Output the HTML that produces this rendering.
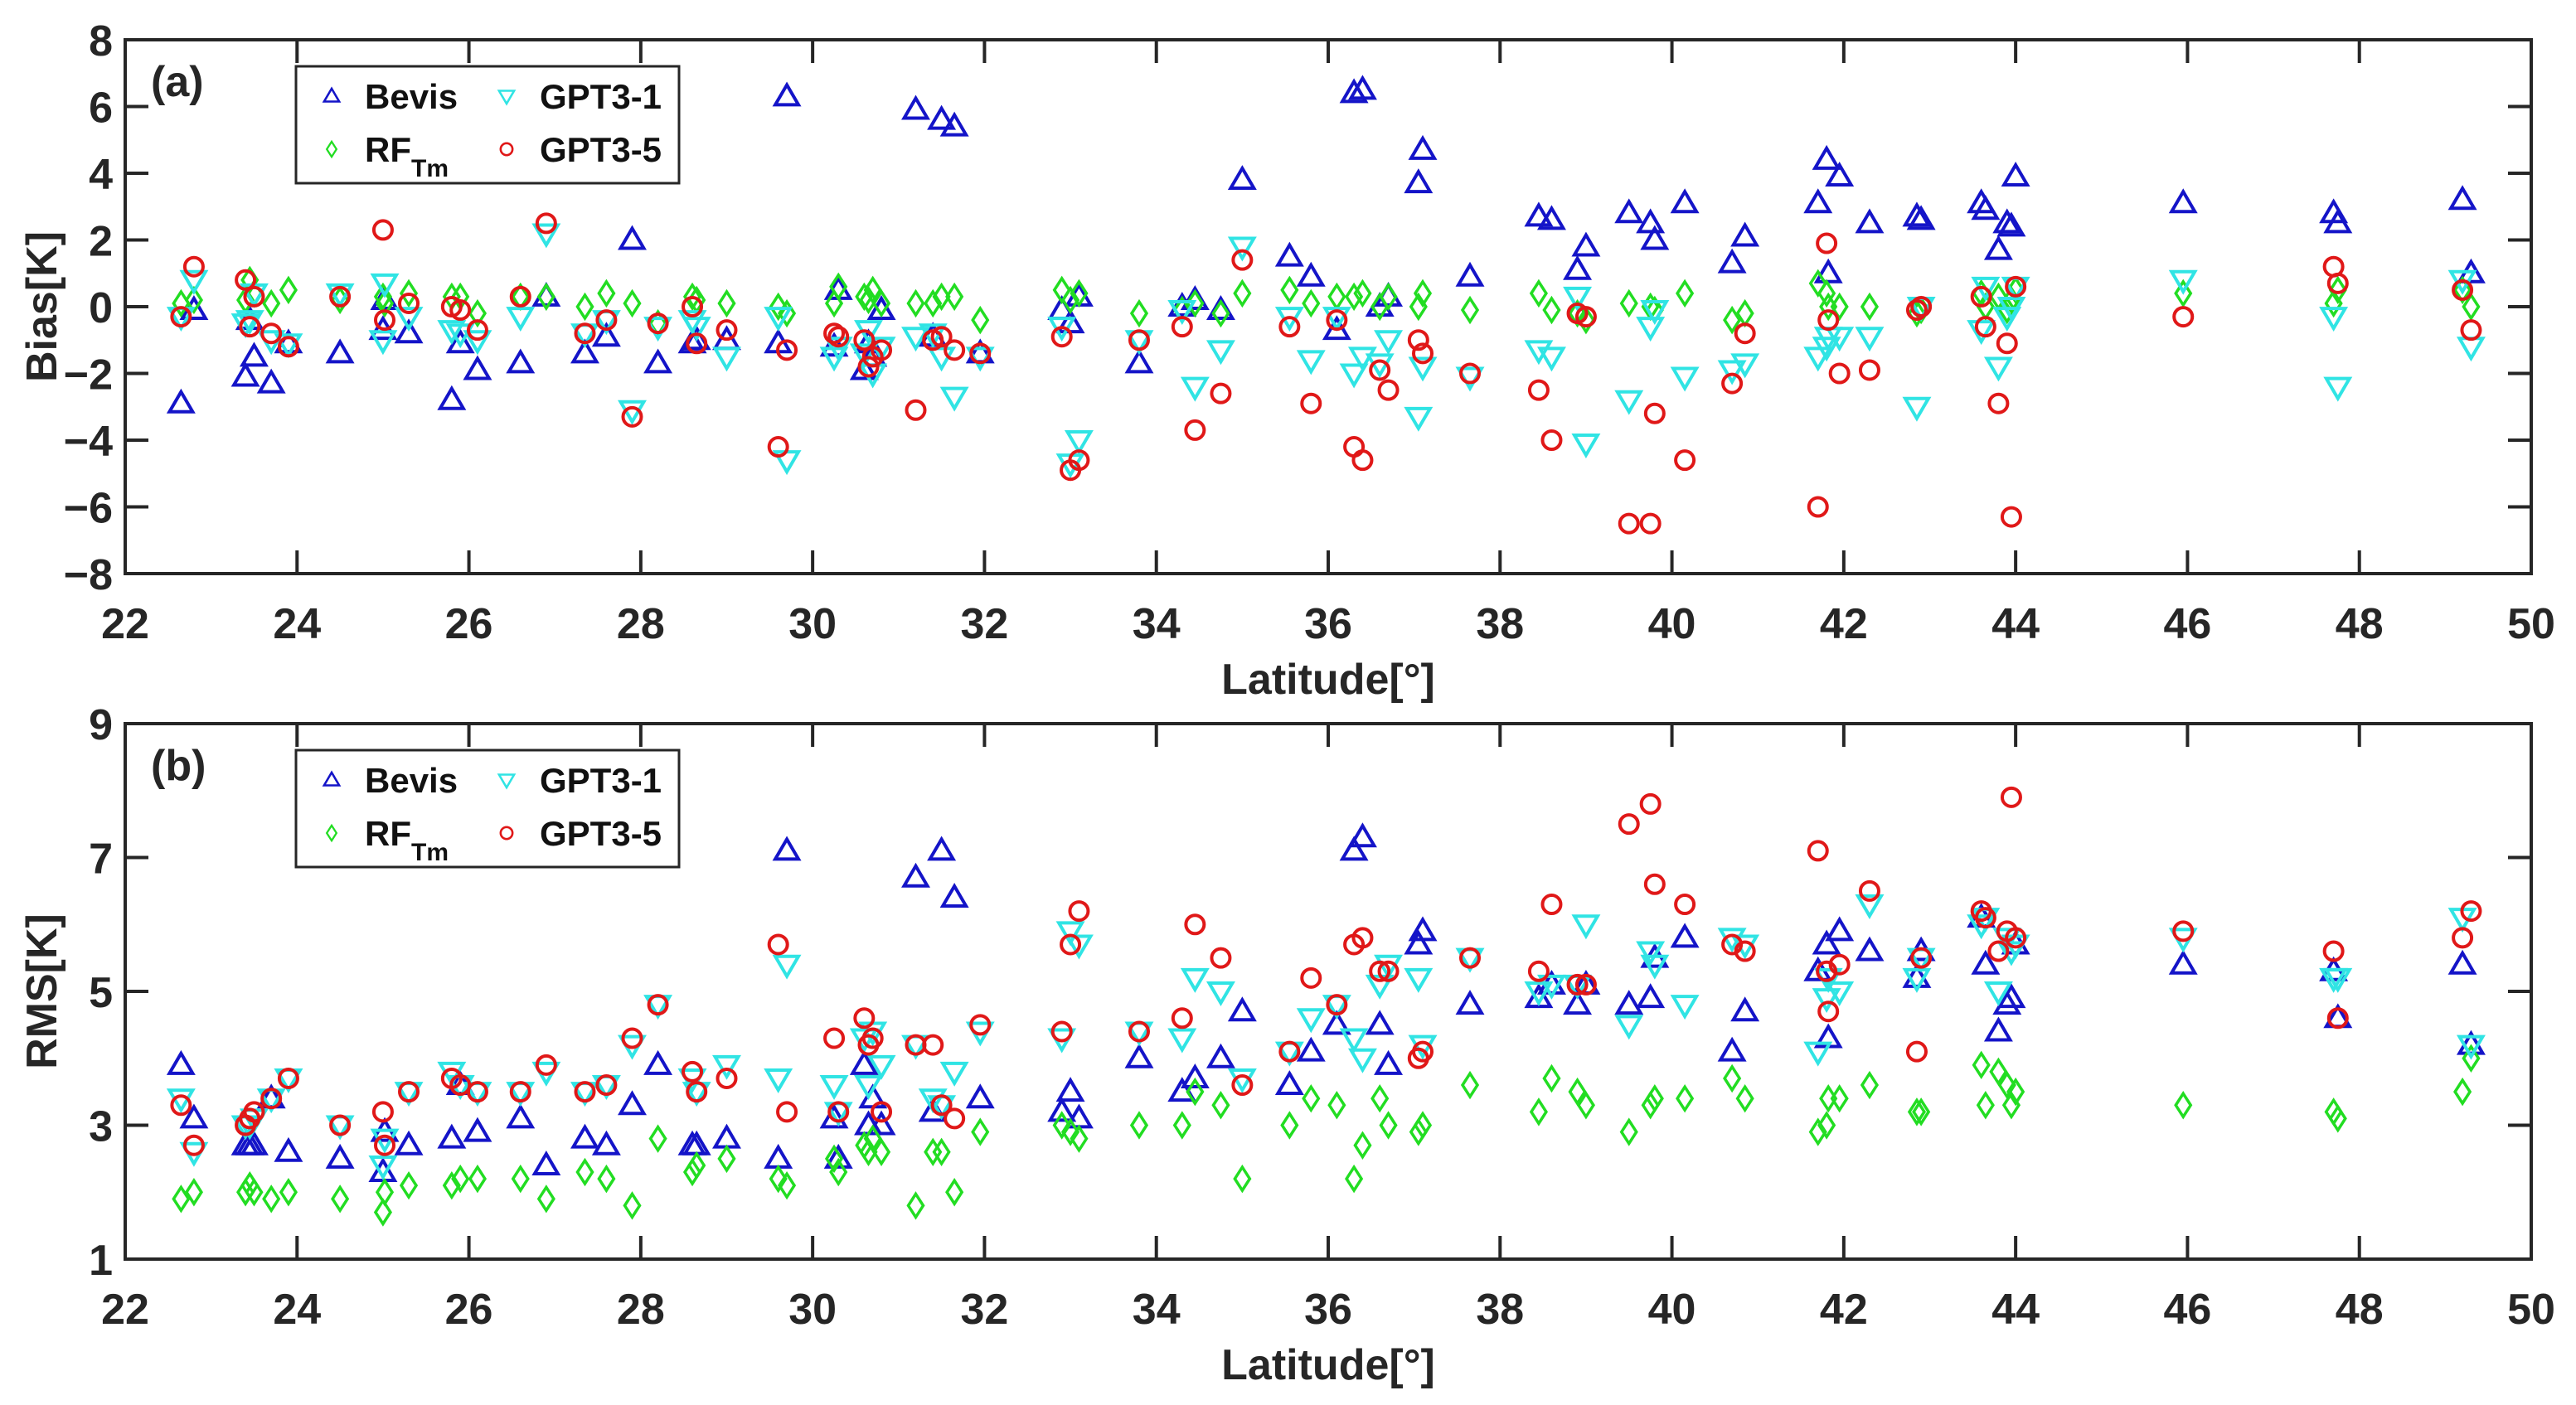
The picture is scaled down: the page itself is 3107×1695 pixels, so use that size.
<!DOCTYPE html>
<html><head><meta charset="utf-8"><style>
html,body{margin:0;padding:0;background:#fff;}
svg{display:block;font-family:"Liberation Sans",Arial,sans-serif;font-weight:bold;}
</style></head><body>
<svg id="chart" width="3107" height="1695" viewBox="0 0 3107 1695"></svg>
<script>
const lat=[22.65,22.8,23.4,23.45,23.5,23.7,23.9,24.5,25.0,25.02,25.3,25.8,25.9,26.1,26.6,26.9,27.35,27.6,27.9,28.2,28.6,28.65,29.0,29.6,29.7,30.25,30.3,30.6,30.65,30.7,30.8,31.2,31.4,31.5,31.65,31.95,32.9,33.0,33.1,33.8,34.3,34.45,34.75,35.0,35.55,35.8,36.1,36.3,36.4,36.6,36.7,37.05,37.1,37.65,38.45,38.6,38.9,39.0,39.5,39.75,39.8,40.15,40.7,40.85,41.7,41.8,41.82,41.95,42.3,42.85,42.9,43.6,43.65,43.8,43.9,43.95,44.0,45.95,47.7,47.75,49.2,49.3];
const biasBevis=[-2.9,-0.1,-2.1,-0.4,-1.5,-2.3,-1.1,-1.4,-0.7,0.2,-0.8,-2.8,-1.1,-1.9,-1.7,0.3,-1.4,-0.9,2.0,-1.7,-1.1,-1.0,-1.0,-1.1,6.3,-1.2,0.5,-1.9,-1.1,-1.5,-0.1,5.9,-0.9,5.6,5.4,-1.4,-0.1,-0.5,0.3,-1.7,0.0,0.2,-0.1,3.8,1.5,0.9,-0.7,6.4,6.5,0.0,0.3,3.7,4.7,0.9,2.7,2.6,1.1,1.8,2.8,2.5,2.0,3.1,1.3,2.1,3.1,4.4,1.0,3.9,2.5,2.7,2.6,3.1,2.9,1.7,2.5,2.4,3.9,3.1,2.8,2.5,3.2,1.0];
const biasRF=[0.1,0.2,0.2,0.8,0.4,0.1,0.5,0.2,0.3,0.1,0.4,0.3,0.3,-0.2,0.3,0.3,0.0,0.4,0.1,-0.5,0.3,0.2,0.1,0.0,-0.2,0.1,0.6,0.3,0.2,0.5,0.1,0.1,0.1,0.3,0.3,-0.4,0.5,0.2,0.4,-0.2,-0.1,0.1,-0.2,0.4,0.5,0.1,0.3,0.3,0.4,0.0,0.3,0.0,0.4,-0.1,0.4,-0.1,-0.2,-0.4,0.1,0.0,-0.1,0.4,-0.4,-0.2,0.7,0.4,0.0,0.0,0.0,-0.2,-0.1,0.4,0.0,0.3,-0.1,0.2,0.5,0.4,0.1,0.5,0.5,0.0];
const biasG1=[-0.3,0.8,-0.5,-0.4,0.4,-1.0,-1.1,0.4,-1.0,0.7,-0.3,-0.7,-0.8,-1.0,-0.3,2.2,-0.8,-0.4,-3.1,-0.6,-0.4,-0.6,-1.5,-0.3,-4.6,-1.5,-1.2,-1.4,-0.7,-2.0,-1.2,-0.9,-0.8,-1.5,-2.7,-1.5,-0.6,-4.7,-4.0,-1.0,-0.1,-2.4,-1.3,1.8,-0.3,-1.6,-0.3,-2.0,-1.5,-1.7,-1.0,-3.3,-1.8,-2.1,-1.3,-1.5,0.3,-4.1,-2.8,-0.6,-0.1,-2.1,-1.9,-1.7,-1.5,-1.2,-0.9,-0.9,-0.9,-3.0,0.0,-0.7,0.6,-1.8,-0.3,0.0,0.6,0.8,-0.3,-2.4,0.8,-1.2];
const biasG5=[-0.3,1.2,0.8,-0.6,0.3,-0.8,-1.2,0.3,2.3,-0.4,0.1,0.0,-0.1,-0.7,0.3,2.5,-0.8,-0.4,-3.3,-0.5,0.0,-1.1,-0.7,-4.2,-1.3,-0.8,-0.9,-1.0,-1.8,-1.5,-1.3,-3.1,-1.0,-0.9,-1.3,-1.4,-0.9,-4.9,-4.6,-1.0,-0.6,-3.7,-2.6,1.4,-0.6,-2.9,-0.4,-4.2,-4.6,-1.9,-2.5,-1.0,-1.4,-2.0,-2.5,-4.0,-0.2,-0.3,-6.5,-6.5,-3.2,-4.6,-2.3,-0.8,-6.0,1.9,-0.4,-2.0,-1.9,-0.1,0.0,0.3,-0.6,-2.9,-1.1,-6.3,0.6,-0.3,1.2,0.7,0.5,-0.7];
const rmsBevis=[3.9,3.1,2.7,2.7,2.7,3.4,2.6,2.5,2.3,2.9,2.7,2.8,3.6,2.9,3.1,2.4,2.8,2.7,3.3,3.9,2.7,2.7,2.8,2.5,7.1,3.1,2.5,3.9,3.0,3.4,3.0,6.7,3.2,7.1,6.4,3.4,3.2,3.5,3.1,4.0,3.5,3.7,4.0,4.7,3.6,4.1,4.5,7.1,7.3,4.5,3.9,5.7,5.9,4.8,4.9,5.1,4.8,5.1,4.8,4.9,5.5,5.8,4.1,4.7,5.3,5.7,4.3,5.9,5.6,5.2,5.6,6.1,5.4,4.4,4.8,4.9,5.7,5.4,5.3,4.6,5.4,4.2];
const rmsRF=[1.9,2.0,2.0,2.1,2.0,1.9,2.0,1.9,1.7,2.0,2.1,2.1,2.2,2.2,2.2,1.9,2.3,2.2,1.8,2.8,2.3,2.4,2.5,2.2,2.1,2.5,2.3,2.7,2.6,2.8,2.6,1.8,2.6,2.6,2.0,2.9,3.0,2.9,2.8,3.0,3.0,3.5,3.3,2.2,3.0,3.4,3.3,2.2,2.7,3.4,3.0,2.9,3.0,3.6,3.2,3.7,3.5,3.3,2.9,3.3,3.4,3.4,3.7,3.4,2.9,3.0,3.4,3.4,3.6,3.2,3.2,3.9,3.3,3.8,3.6,3.3,3.5,3.3,3.2,3.1,3.5,4.0];
const rmsG1=[3.4,2.6,3.0,3.0,3.1,3.4,3.7,3.0,2.4,2.8,3.5,3.8,3.6,3.5,3.5,3.8,3.5,3.6,4.2,4.8,3.7,3.5,3.9,3.7,5.4,3.6,3.2,4.3,3.6,4.4,3.9,4.2,3.4,3.3,3.8,4.4,4.3,5.9,5.7,4.4,4.3,5.2,5.0,3.7,4.1,4.6,4.8,4.3,4.0,5.1,5.4,5.2,4.2,5.5,5.0,5.1,5.1,6.0,4.5,5.6,5.4,4.8,5.8,5.7,4.1,4.9,5.2,5.0,6.3,5.2,5.5,6.0,6.1,5.0,5.8,5.6,5.7,5.8,5.2,5.2,6.1,4.2];
const rmsG5=[3.3,2.7,3.0,3.1,3.2,3.4,3.7,3.0,3.2,2.7,3.5,3.7,3.6,3.5,3.5,3.9,3.5,3.6,4.3,4.8,3.8,3.5,3.7,5.7,3.2,4.3,3.2,4.6,4.2,4.3,3.2,4.2,4.2,3.3,3.1,4.5,4.4,5.7,6.2,4.4,4.6,6.0,5.5,3.6,4.1,5.2,4.8,5.7,5.8,5.3,5.3,4.0,4.1,5.5,5.3,6.3,5.1,5.1,7.5,7.8,6.6,6.3,5.7,5.6,7.1,5.3,4.7,5.4,6.5,4.1,5.5,6.2,6.1,5.6,5.9,7.9,5.8,5.9,5.6,4.6,5.8,6.2];
const xTicks=[22,24,26,28,30,32,34,36,38,40,42,44,46,48,50];
const yTicksA=[-8,-6,-4,-2,0,2,4,6,8];
const yTicksB=[1,3,5,7,9];

const NS="http://www.w3.org/2000/svg";
const svg=document.getElementById("chart");
const X0=151,X1=3053;
function xs(v){return X0+(v-22)/(50-22)*(X1-X0);}
function mk(tag,attrs,parent){const e=document.createElementNS(NS,tag);for(const k in attrs)e.setAttribute(k,attrs[k]);(parent||svg).appendChild(e);return e;}
const AX="#262626";
const COL={bevis:"#1414c8",rf:"#22dd22",g1:"#30e4e4",g5:"#e01818"};

function marker(g,type,x,y){
  let e;
  if(type==="bevis"){e=mk("polygon",{points:`${x},${y-14} ${x+14},${y+10} ${x-14},${y+10}`,fill:"none",stroke:COL.bevis,"stroke-width":4},g);}
  else if(type==="g1"){e=mk("polygon",{points:`${x},${y+14} ${x+14},${y-10} ${x-14},${y-10}`,fill:"none",stroke:COL.g1,"stroke-width":4},g);}
  else if(type==="rf"){e=mk("polygon",{points:`${x},${y-14} ${x+9},${y} ${x},${y+14} ${x-9},${y}`,fill:"none",stroke:COL.rf,"stroke-width":3.5},g);}
  else {e=mk("circle",{cx:x,cy:y,r:11,fill:"none",stroke:COL.g5,"stroke-width":4},g);}
  return e;
}

function panel(id,top,bot,ymin,ymax,yTicks,series,ylabel,tag){
  const ys=v=>bot-(v-ymin)/(ymax-ymin)*(bot-top);
  const g=mk("g",{});
  
  
  for(const s of series){
    const sg=mk("g",{},g);
    
    
    s.vals.forEach((v,i)=>{
      const m=marker(sg,s.type,xs(lat[i]),ys(v));
      
      
    });
  }
  const fr=mk("rect",{x:X0,y:top,width:X1-X0,height:bot-top,fill:"none",stroke:AX,"stroke-width":4},g);
  
  
  xTicks.forEach(t=>{
    const x=xs(t);
    mk("line",{x1:x,x2:x,y1:bot,y2:bot-28,stroke:AX,"stroke-width":4},g);
    mk("line",{x1:x,x2:x,y1:top,y2:top+28,stroke:AX,"stroke-width":4},g);
    const tx=mk("text",{x:x,y:bot+78,"text-anchor":"middle","font-size":52,fill:AX},g);
    tx.textContent=t;
    
    
  });
  yTicks.forEach(t=>{
    const y=ys(t);
    mk("line",{x1:X0,x2:X0+28,y1:y,y2:y,stroke:AX,"stroke-width":4},g);
    mk("line",{x1:X1,x2:X1-28,y1:y,y2:y,stroke:AX,"stroke-width":4},g);
    const tx=mk("text",{x:136,y:y+19,"text-anchor":"end","font-size":52,fill:AX},g);
    tx.textContent=(t<0?"\u2212"+(-t):""+t);
    
    
  });
  const xl=mk("text",{x:1602,y:bot+145,"text-anchor":"middle","font-size":52,fill:AX},g);
  xl.textContent="Latitude[°]";
  
  
  const cy=(top+bot)/2;
  const yl=mk("text",{x:68,y:cy,"text-anchor":"middle","font-size":52,fill:AX,transform:`rotate(-90 68 ${cy})`},g);
  yl.textContent=ylabel;
  
  
  const pl=mk("text",{x:182,y:top+68,"font-size":52,fill:AX},g);
  pl.textContent=tag;
  
  
  const off=top-48;
  const lg=mk("g",{},g);
  
  
  mk("rect",{x:357,y:80+off,width:462,height:141,fill:"#fff",stroke:AX,"stroke-width":3},lg);
  const entries=[["bevis",400,116,"Bevis"],["g1",611,116,"GPT3-1"],["rf",400,180,"RF"],["g5",611,180,"GPT3-5"]];
  entries.forEach(en=>{
    const eg=mk("g",{},lg);
    
    
    const m=marker(eg,en[0],en[1],en[2]+off);
    m.setAttribute('transform',`translate(${en[1]},${en[2]+off}) scale(0.65) translate(${-en[1]},${-(en[2]+off)})`);
    const t=mk("text",{x:en[1]+40,y:en[2]+off+15,"font-size":42,fill:"#111"},eg);
    t.textContent=en[3];
    if(en[3]==="RF"){const s=mk("tspan",{dy:18,"font-size":30},t);s.textContent="Tm";}
  });
}

panel("bias-panel",48,692,-8,8,yTicksA,[
  {name:"bevis",type:"bevis",vals:biasBevis},
  {name:"rftm",type:"rf",vals:biasRF},
  {name:"gpt3-1",type:"g1",vals:biasG1},
  {name:"gpt3-5",type:"g5",vals:biasG5}],"Bias[K]","(a)");
panel("rms-panel",873,1519,1,9,yTicksB,[
  {name:"bevis",type:"bevis",vals:rmsBevis},
  {name:"rftm",type:"rf",vals:rmsRF},
  {name:"gpt3-1",type:"g1",vals:rmsG1},
  {name:"gpt3-5",type:"g5",vals:rmsG5}],"RMS[K]","(b)");
</script>
</body></html>
